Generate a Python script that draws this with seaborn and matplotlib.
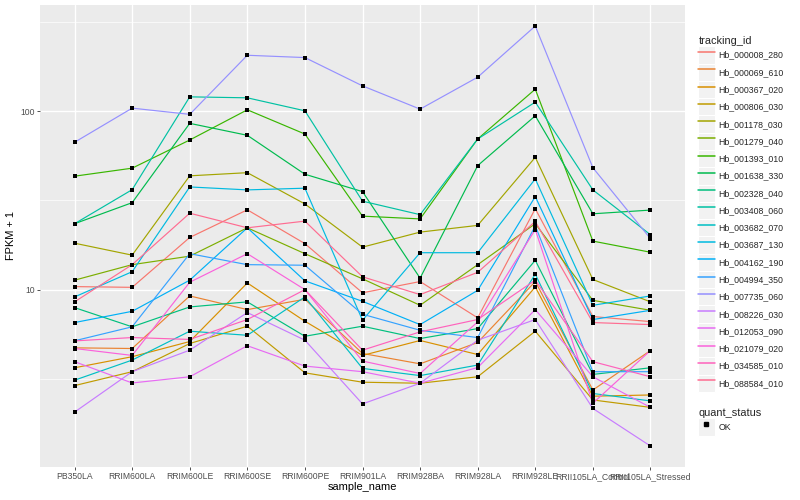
import matplotlib
matplotlib.use("Agg")
import matplotlib.pyplot as plt
from matplotlib.legend_handler import HandlerLine2D
from matplotlib.lines import Line2D
from matplotlib.patches import Rectangle
from matplotlib.ticker import FixedLocator, NullFormatter
import pandas as pd
import seaborn as sns

samples = ["PB350LA", "RRIM600LA", "RRIM600LE", "RRIM600SE", "RRIM600PE",
           "RRIM901LA", "RRIM928BA", "RRIM928LA", "RRIM928LE",
           "RRII105LA_Control", "RRII105LA_Stressed"]

tracking_ids = ["Hb_000008_280", "Hb_000069_610", "Hb_000367_020", "Hb_000806_030",
                "Hb_001178_030", "Hb_001279_040", "Hb_001393_010", "Hb_001638_330",
                "Hb_002328_040", "Hb_003408_060", "Hb_003682_070", "Hb_003687_130",
                "Hb_004162_190", "Hb_004994_350", "Hb_007735_060", "Hb_008226_030",
                "Hb_012053_090", "Hb_021079_020", "Hb_034585_010", "Hb_088584_010"]

# FPKM + 1, one list per transcript, in sample order
hb_000008_280 = [10.4, 10.3, 19.6, 28.0, 18.1, 9.6, 11.1, 6.95, 28.4, 7.07, 6.62]
hb_000069_610 = [4.72, 4.68, 9.22, 7.73, 8.83, 4.39, 3.84, 5.06, 11.1, 2.74, 4.56]
hb_000367_020 = [3.65, 4.21, 5.12, 10.9, 6.65, 4.28, 5.19, 4.33, 10.35, 2.53, 2.57]
hb_000806_030 = [2.90, 3.47, 4.99, 6.24, 3.42, 3.03, 2.99, 3.25, 5.85, 2.41, 2.19]
hb_001178_030 = [18.2, 15.6, 43.4, 45.2, 30.2, 17.3, 21.0, 22.9, 55.1, 11.4, 8.54]
hb_001279_040 = [11.3, 13.8, 15.4, 22.2, 15.9, 11.5, 8.17, 13.8, 23.4, 8.71, 7.66]
hb_001393_010 = [43.2, 47.9, 68.9, 101.7, 74.4, 25.8, 24.9, 69.8, 132.7, 18.7, 16.2]
hb_001638_330 = [23.4, 30.7, 85.4, 73.2, 44.3, 35.4, 11.6, 49.5, 94.1, 26.6, 27.9]
hb_002328_040 = [7.93, 6.19, 8.00, 8.54, 5.48, 6.24, 5.32, 6.05, 14.6, 3.35, 3.65]
hb_003408_060 = [23.4, 36.3, 120.2, 118.7, 100.4, 31.3, 26.3, 69.8, 112.3, 36.2, 20.3]
hb_003682_070 = [3.11, 4.03, 5.85, 5.55, 9.10, 3.62, 3.30, 3.78, 12.2, 2.62, 2.38]
hb_003687_130 = [9.10, 12.6, 37.6, 36.2, 37.0, 6.74, 16.1, 16.1, 41.7, 8.17, 9.22]
hb_004162_190 = [6.54, 7.56, 11.3, 22.2, 11.2, 8.60, 6.37, 9.91, 33.2, 6.80, 7.66]
hb_004994_350 = [5.17, 6.19, 15.9, 13.8, 13.7, 7.28, 5.92, 5.39, 22.8, 3.47, 3.47]
hb_007735_060 = [66.9, 103.9, 95.9, 205.5, 199.5, 138.5, 102.6, 154.9, 299.6, 48.2, 19.3]
hb_008226_030 = [2.06, 3.47, 4.58, 7.44, 5.21, 2.29, 2.99, 5.21, 6.80, 2.16, 1.33]
hb_012053_090 = [3.95, 3.00, 3.25, 4.85, 3.73, 3.47, 2.99, 3.66, 7.73, 3.25, 2.19]
hb_021079_020 = [4.68, 4.28, 11.0, 15.9, 10.0, 3.98, 3.39, 6.60, 21.7, 2.31, 4.56]
hb_034585_010 = [5.16, 5.39, 5.26, 6.80, 10.0, 4.58, 5.80, 6.80, 11.3, 3.95, 3.25]
hb_088584_010 = [8.54, 13.8, 26.8, 22.2, 24.2, 11.8, 9.38, 12.5, 24.1, 6.54, 6.37]

series = [hb_000008_280, hb_000069_610, hb_000367_020, hb_000806_030,
          hb_001178_030, hb_001279_040, hb_001393_010, hb_001638_330,
          hb_002328_040, hb_003408_060, hb_003682_070, hb_003687_130,
          hb_004162_190, hb_004994_350, hb_007735_060, hb_008226_030,
          hb_012053_090, hb_021079_020, hb_034585_010, hb_088584_010]

# ggplot2 default hue palette for 20 levels
colors = ["#F8766D", "#EA8331", "#D89000", "#C09B00", "#A3A500", "#7CAE00",
          "#39B600", "#00BB4E", "#00BF7D", "#00C1A3", "#00BFC4", "#00BAE0",
          "#00B0F6", "#35A2FF", "#9590FF", "#C77CFF", "#E76BF3", "#FA62DB",
          "#FF62BC", "#FF6C91"]

rows = []
for tid, vals in zip(tracking_ids, series):
    for s, v in zip(samples, vals):
        rows.append({"tracking_id": tid, "sample_name": s, "fpkm": v, "quant_status": "OK"})
df = pd.DataFrame(rows)

sns.set_theme(style="darkgrid", rc={
    "axes.facecolor": "#EBEBEB",
    "grid.color": "white",
    "axes.edgecolor": "#EBEBEB",
})
plt.rcParams["font.family"] = ["Liberation Sans", "DejaVu Sans"]

fig = plt.figure(figsize=(8, 5), dpi=100)
ax = fig.add_axes([40 / 800, 1 - 467 / 500, 645 / 800, 462 / 500])

sns.lineplot(data=df, x="sample_name", y="fpkm", hue="tracking_id",
             hue_order=tracking_ids, palette=colors, sort=False, estimator=None,
             linewidth=0.85, legend=False, ax=ax)
sns.scatterplot(data=df, x="sample_name", y="fpkm", color="black", marker="s",
                s=7, linewidth=0, legend=False, ax=ax, zorder=5)

ax.set_yscale("log")
ax.set_ylim(1.015, 393)
ax.set_xlim(-0.6, len(samples) - 0.4)
ax.yaxis.set_major_locator(FixedLocator([10, 100]))
ax.set_yticklabels(["10", "100"])
ax.yaxis.set_minor_locator(FixedLocator([10 ** 0.5, 10 ** 1.5, 10 ** 2.5]))
ax.yaxis.set_minor_formatter(NullFormatter())
ax.grid(True, which="major", color="white", linewidth=1.0)
ax.grid(True, which="minor", axis="y", color="white", linewidth=0.5)
ax.tick_params(which="major", length=2, width=0.6, color="#333333",
               labelsize=6.2, labelcolor="#4D4D4D", pad=1.5, bottom=True, left=True)
ax.tick_params(which="minor", length=0)
for sp in ax.spines.values():
    sp.set_visible(False)
ax.set_xlabel("sample_name", fontsize=7.9, color="black", labelpad=1)
ax.set_ylabel("FPKM + 1", fontsize=7.9, color="black", labelpad=3)


class KeyHandler(HandlerLine2D):
    # grey key background like ggplot legends
    def create_artists(self, legend, orig_handle, xdescent, ydescent, width,
                       height, fontsize, trans):
        bg = Rectangle((-xdescent, -ydescent), width, height, facecolor="#F2F2F2",
                       edgecolor="white", linewidth=0.8, transform=trans, zorder=0)
        arts = super().create_artists(legend, orig_handle, xdescent, ydescent,
                                      width, height, fontsize, trans)
        return [bg] + arts


key_opts = dict(frameon=False, fontsize=6.3, title_fontsize=7.9,
                handlelength=1.85, handleheight=2.66, labelspacing=0,
                handletextpad=0.45, borderpad=0, alignment="left",
                handler_map={Line2D: KeyHandler()}, loc="upper left")

line_handles = [Line2D([], [], color=c, linewidth=1.1) for c in colors]
leg1 = fig.legend(line_handles, tracking_ids, title="tracking_id",
                  bbox_to_anchor=(694 / 800, 1 - 32 / 500), **key_opts)
pt_handle = Line2D([], [], color="black", marker="s", markersize=2.2, linewidth=0)
leg2 = fig.legend([pt_handle], ["OK"], title="quant_status",
                  bbox_to_anchor=(694 / 800, 1 - 404 / 500), **key_opts)

fig.savefig("out.png", dpi=100)
